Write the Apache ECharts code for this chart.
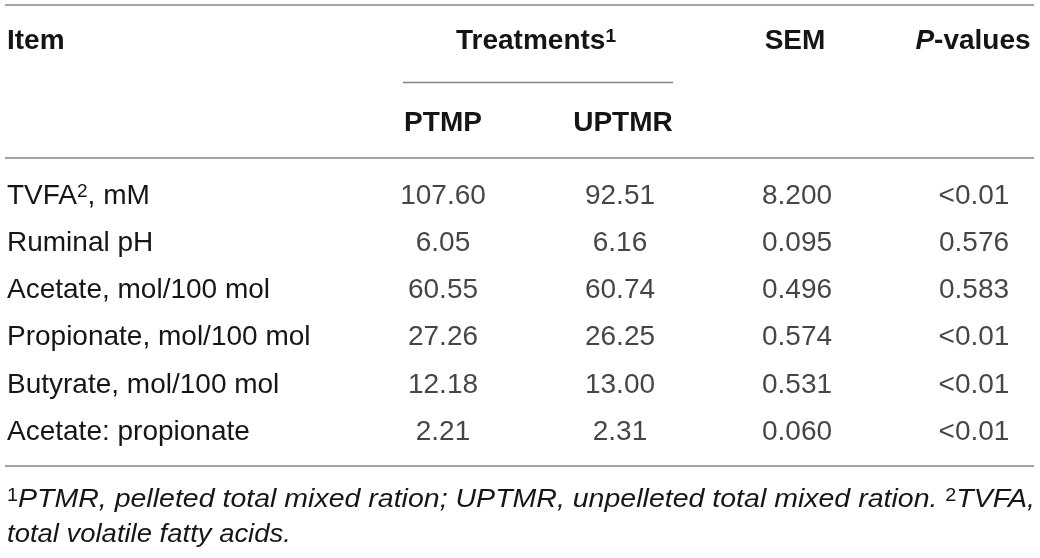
<!DOCTYPE html>
<html>
<head>
<meta charset="utf-8">
<script src="https://cdn.jsdelivr.net/npm/echarts@6/dist/echarts.min.js"></script>
<style>
  html, body { margin: 0; padding: 0; background: #fff; }
  #main { width: 1040px; height: 558px; }
</style>
</head>
<body>
<div id="main"></div>
<script>
var items = ['TVFA{sup|2}, mM', 'Ruminal pH', 'Acetate, mol/100 mol', 'Propionate, mol/100 mol', 'Butyrate, mol/100 mol', 'Acetate: propionate'];
var columns = ['PTMP', 'UPTMR', 'SEM', 'P-values'];
var ptmp = ['107.60', '6.05', '60.55', '27.26', '12.18', '2.21'];
var uptmr = ['92.51', '6.16', '60.74', '26.25', '13.00', '2.31'];
var sem = ['8.200', '0.095', '0.496', '0.574', '0.531', '0.060'];
var pValues = ['<0.01', '0.576', '0.583', '<0.01', '<0.01', '<0.01'];

var FONT = '"Liberation Sans", Arial, Helvetica, sans-serif';
var TEXT = '#161616';
var HEAD = '#151515';
var RULE = '#858585';

// one cell per [column, row]
var cells = [];
[ptmp, uptmr, sem, pValues].forEach(function (col, j) {
    col.forEach(function (v, i) {
        cells.push([j, i, v]);
    });
});

var chart = echarts.init(document.getElementById('main'));

function rule(x1, y, x2) {
    return {
        type: 'line',
        shape: { x1: x1, y1: y, x2: x2, y2: y },
        style: { stroke: RULE, lineWidth: 1.5 },
        silent: true
    };
}

function head(text, x, y, align, rich) {
    return {
        type: 'text',
        style: {
            text: text, x: x, y: y,
            align: align || 'center', verticalAlign: 'middle',
            fontFamily: FONT, fontSize: 28, fontWeight: 'bold', fill: HEAD,
            rich: rich || {}
        },
        silent: true
    };
}

var supBold = { fontFamily: FONT, fontSize: 19, fontWeight: 'bold', fill: HEAD, verticalAlign: 'top' };
var noteRich = {
    sup: { fontFamily: FONT, fontSize: 18, fill: TEXT, verticalAlign: 'top' },
    it: { fontFamily: FONT, fontSize: 26, fontStyle: 'italic', fill: TEXT }
};

var option = {
    animation: false,
    backgroundColor: '#fff',
    grid: { left: 443, width: 531, top: 196, height: 236 },
    xAxis: {
        type: 'category',
        data: columns,
        boundaryGap: false,
        show: false
    },
    yAxis: {
        type: 'category',
        data: items,
        inverse: true,
        boundaryGap: false,
        axisLine: { show: false },
        axisTick: { show: false },
        splitLine: { show: false },
        axisLabel: {
            align: 'left',
            margin: 436,
            fontFamily: FONT,
            fontSize: 28,
            color: TEXT,
            rich: {
                sup: { fontFamily: FONT, fontSize: 19, color: TEXT, verticalAlign: 'top' }
            }
        }
    },
    series: [{
        type: 'scatter',
        data: cells,
        symbolSize: 1,
        itemStyle: { color: 'rgba(0,0,0,0)' },
        label: {
            show: true,
            position: 'inside',
            formatter: function (p) { return p.value[2]; },
            fontFamily: FONT,
            fontSize: 28,
            color: TEXT
        },
        silent: true
    }],
    graphic: [
        rule(5, 5, 1034),
        rule(403, 82.5, 673),
        rule(5, 158, 1034),
        rule(5, 466, 1034),
        head('Item', 7, 41, 'left'),
        head('Treatments{sup|1}', 536, 41, 'center', { sup: supBold }),
        head('SEM', 795, 41),
        head('{it|P}-values', 973, 41, 'center', {
            it: { fontFamily: FONT, fontSize: 28, fontWeight: 'bold', fontStyle: 'italic', fill: HEAD }
        }),
        head('PTMP', 443, 123),
        head('UPTMR', 623, 123),
        {
            type: 'text',
            x: 7, y: 500, scaleX: 1.097,
            style: {
                text: '{sup|1}{it|PTMR, pelleted total mixed ration; UPTMR, unpelleted total mixed ration. }{sup|2}{it|TVFA,}',
                x: 0, y: 0, align: 'left', verticalAlign: 'middle',
                fontFamily: FONT, fontSize: 26, fill: TEXT,
                rich: noteRich
            },
            silent: true
        },
        {
            type: 'text',
            x: 7, y: 535, scaleX: 1.056,
            style: {
                text: 'total volatile fatty acids.',
                x: 0, y: 0, align: 'left', verticalAlign: 'middle',
                fontFamily: FONT, fontSize: 26, fontStyle: 'italic', fill: TEXT
            },
            silent: true
        }
    ]
};

chart.setOption(option);
</script>
</body>
</html>
